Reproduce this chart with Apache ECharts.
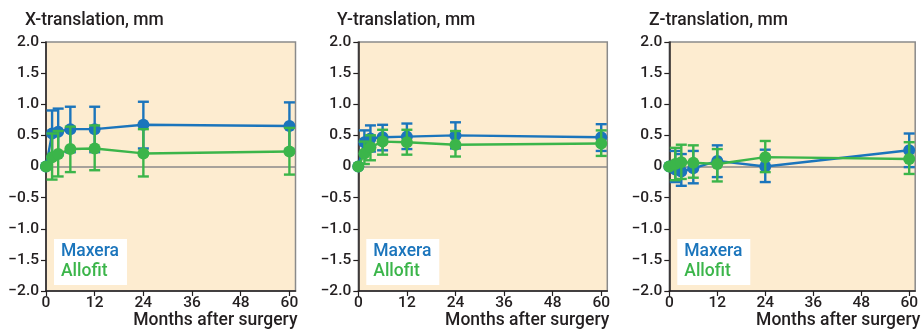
<!DOCTYPE html>
<html><head><meta charset="utf-8">
<script src="https://cdn.jsdelivr.net/npm/echarts@6/dist/echarts.min.js"></script>
<style>html,body{margin:0;padding:0;background:#fff}#c{width:921px;height:332px}</style>
</head><body><div id="c"></div>
<script>
// ---- data ----
const months = [0, 1.5, 3, 6, 12, 24, 60];
const xTicks = [0, 12, 24, 36, 48, 60];
const yTicks = [-2, -1.5, -1, -0.5, 0, 0.5, 1, 1.5, 2];
const panelTitles = ['X-translation, mm', 'Y-translation, mm', 'Z-translation, mm'];
const xAxisTitle = 'Months after surgery';
const groupNames = ['Maxera', 'Allofit'];

const maxeraX   = [0, 0.53, 0.56, 0.60, 0.60, 0.67, 0.65];
const maxeraXLo = [0, 0.16, 0.18, 0.23, 0.23, 0.29, 0.27];
const maxeraXHi = [0, 0.90, 0.93, 0.96, 0.96, 1.04, 1.03];
const allofitX   = [0, 0.15, 0.20, 0.28, 0.29, 0.21, 0.24];
const allofitXLo = [0, -0.21, -0.16, -0.09, -0.06, -0.16, -0.13];
const allofitXHi = [0, 0.53, 0.57, 0.64, 0.66, 0.60, 0.62];

const maxeraY   = [0, 0.39, 0.45, 0.47, 0.48, 0.50, 0.47];
const maxeraYLo = [0, 0.20, 0.24, 0.26, 0.28, 0.29, 0.25];
const maxeraYHi = [0, 0.58, 0.66, 0.67, 0.69, 0.71, 0.68];
const allofitY   = [0, 0.21, 0.31, 0.40, 0.39, 0.35, 0.37];
const allofitYLo = [0, 0.04, 0.10, 0.19, 0.19, 0.16, 0.17];
const allofitYHi = [0, 0.40, 0.50, 0.59, 0.59, 0.57, 0.58];

const maxeraZ   = [0, -0.05, -0.08, -0.03, 0.09, 0.00, 0.26];
const maxeraZLo = [0, -0.25, -0.31, -0.27, -0.17, -0.25, -0.01];
const maxeraZHi = [0, 0.25, 0.20, 0.25, 0.34, 0.27, 0.53];
const allofitZ   = [0, 0.04, 0.07, 0.06, 0.04, 0.15, 0.12];
const allofitZLo = [0, -0.22, -0.20, -0.18, -0.24, -0.09, -0.12];
const allofitZHi = [0, 0.30, 0.35, 0.34, 0.28, 0.41, 0.39];

// ---- styling ----
const BLUE = '#1b75bc', GREEN = '#3bb54a', BG = '#fdecd0', INK = '#231f20', FRAME = '#8a8a8a';
const FONT = 'Roboto, Liberation Sans, Arial, sans-serif';
const FW = 500;
const grids = [
  {left: 46, top: 42, width: 249.5, height: 249},
  {left: 358.3, top: 42, width: 249, height: 249},
  {left: 669.3, top: 42, width: 249, height: 249}
];
const titleX = [20, 332, 644];

const panels = [
  {m: maxeraX, mLo: maxeraXLo, mHi: maxeraXHi, a: allofitX, aLo: allofitXLo, aHi: allofitXHi},
  {m: maxeraY, mLo: maxeraYLo, mHi: maxeraYHi, a: allofitY, aLo: allofitYLo, aHi: allofitYHi},
  {m: maxeraZ, mLo: maxeraZLo, mHi: maxeraZHi, a: allofitZ, aLo: allofitZLo, aHi: allofitZHi}
];

function errItem(color) {
  return function (params, api) {
    const x = api.value(0), lo = api.value(1), hi = api.value(2);
    if (lo === hi) return;
    const pHi = api.coord([x, hi]), pLo = api.coord([x, lo]);
    const w = 5.5;
    const st = {stroke: color, lineWidth: 2.4};
    return {type: 'group', children: [
      {type: 'line', shape: {x1: pHi[0], y1: pHi[1], x2: pLo[0], y2: pLo[1]}, style: st},
      {type: 'line', shape: {x1: pHi[0] - w, y1: pHi[1], x2: pHi[0] + w, y2: pHi[1]}, style: st},
      {type: 'line', shape: {x1: pLo[0] - w, y1: pLo[1], x2: pLo[0] + w, y2: pLo[1]}, style: st}
    ]};
  };
}
function yFmt(v) {
  if (Math.abs(v) < 1e-9) return '0';
  return v < 0 ? '\u2212' + Math.abs(v).toFixed(1) : v.toFixed(1);
}

const option = {
  animation: false,
  textStyle: {fontFamily: FONT},
  title: panelTitles.map((t, i) => ({
    text: t, left: titleX[i], top: 7,
    textStyle: {fontSize: 17.5, fontWeight: FW, color: INK, fontFamily: FONT}
  })),
  grid: grids.map(g => Object.assign({show: true, backgroundColor: BG, borderColor: FRAME, borderWidth: 1.5}, g)),
  xAxis: grids.map((g, i) => ({
    type: 'value', gridIndex: i, min: 0, max: 61.5, interval: 12,
    axisLine: {show: true, onZero: false, lineStyle: {color: INK, width: 1.5}},
    axisTick: {show: true, length: 5, customValues: xTicks, lineStyle: {color: INK, width: 1.2}},
    axisLabel: {customValues: xTicks, margin: 4, fontSize: 15.5, fontWeight: FW, color: INK, fontFamily: FONT},
    splitLine: {show: false}
  })),
  yAxis: grids.map((g, i) => ({
    type: 'value', gridIndex: i, min: -2, max: 2, interval: 0.5,
    axisLine: {show: true, onZero: false, lineStyle: {color: INK, width: 1.5}},
    axisTick: {show: true, length: 5, customValues: yTicks, lineStyle: {color: INK, width: 1.2}},
    axisLabel: {customValues: yTicks, margin: 7, fontSize: 15.5, fontWeight: FW, color: INK, fontFamily: FONT, formatter: yFmt},
    splitLine: {show: false}
  })),
  series: [],
  graphic: []
};

panels.forEach((p, i) => {
  option.series.push({
    type: 'custom', xAxisIndex: i, yAxisIndex: i, renderItem: errItem(BLUE), z: 3,
    encode: {x: 0, y: [1, 2]}, silent: true,
    data: months.map((mo, k) => [mo, p.mLo[k], p.mHi[k]])
  });
  option.series.push({
    type: 'line', name: groupNames[0], xAxisIndex: i, yAxisIndex: i, z: 4,
    data: months.map((mo, k) => [mo, p.m[k]]),
    symbol: 'circle', symbolSize: 12, showSymbol: true,
    lineStyle: {color: BLUE, width: 2.4}, itemStyle: {color: BLUE},
    markLine: {silent: true, symbol: 'none', label: {show: false},
      lineStyle: {color: FRAME, width: 1.5, type: 'solid'}, data: [{yAxis: 0}], z: 2}
  });
  option.series.push({
    type: 'custom', xAxisIndex: i, yAxisIndex: i, renderItem: errItem(GREEN), z: 5,
    encode: {x: 0, y: [1, 2]}, silent: true,
    data: months.map((mo, k) => [mo, p.aLo[k], p.aHi[k]])
  });
  option.series.push({
    type: 'line', name: groupNames[1], xAxisIndex: i, yAxisIndex: i, z: 6,
    data: months.map((mo, k) => [mo, p.a[k]]),
    symbol: 'circle', symbolSize: 12, showSymbol: true,
    lineStyle: {color: GREEN, width: 2.4}, itemStyle: {color: GREEN}
  });

  const g = grids[i];
  option.graphic.push({
    type: 'rect', left: g.left + 8, top: 239, z: 10,
    shape: {width: 73, height: 46}, style: {fill: '#ffffff'}
  });
  option.graphic.push({
    type: 'text', left: g.left + 15, top: 243, z: 11,
    style: {text: groupNames[0], fill: BLUE, fontSize: 17.5, fontWeight: FW, fontFamily: FONT}
  });
  option.graphic.push({
    type: 'text', left: g.left + 15, top: 263, z: 11,
    style: {text: groupNames[1], fill: GREEN, fontSize: 17.5, fontWeight: FW, fontFamily: FONT}
  });
  option.graphic.push({
    type: 'text', right: 921 - (g.left + g.width + 2), top: 312, z: 11,
    style: {text: xAxisTitle, fill: INK, fontSize: 17.5, fontWeight: FW, fontFamily: FONT}
  });
});

const chart = echarts.init(document.getElementById('c'), null, {renderer: 'canvas'});
chart.setOption(option);
</script></body></html>
